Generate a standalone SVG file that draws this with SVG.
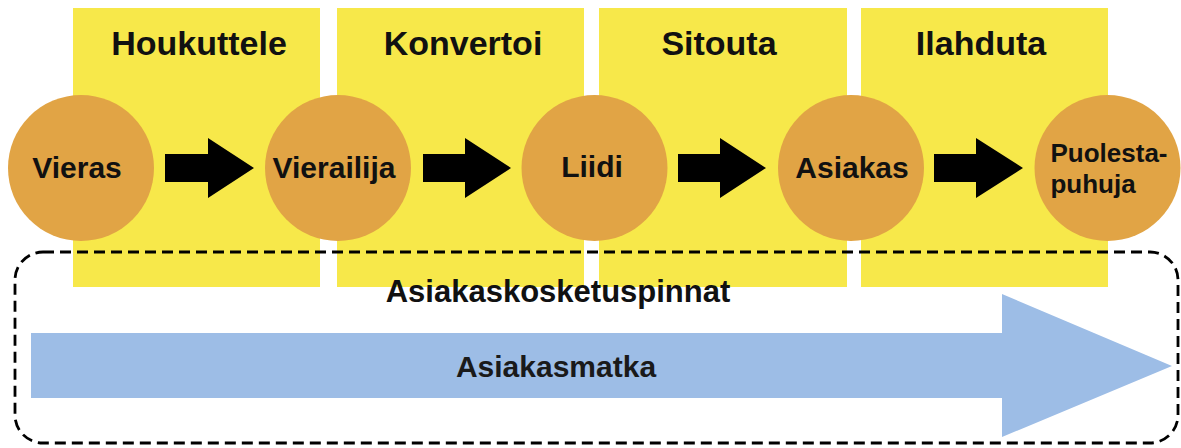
<svg xmlns="http://www.w3.org/2000/svg" width="1181" height="448" viewBox="0 0 1181 448">
<style>
.stage{fill:#F7E84A}
.circ{fill:#E1A445}
.t{font-family:"Liberation Sans",Arial,sans-serif;font-weight:bold;fill:#111;text-anchor:middle}
.title{font-size:34px}
.lbl{font-size:30px}
.arr{fill:#000}
</style>
<rect width="1181" height="448" fill="#fff"/>
<g id="stage-houkuttele"><rect class="stage" x="73" y="8" width="247" height="279"/><text class="t title" x="199" y="55">Houkuttele</text></g>
<g id="stage-konvertoi"><rect class="stage" x="337" y="8" width="247" height="279"/><text class="t title" x="463" y="55">Konvertoi</text></g>
<g id="stage-sitouta"><rect class="stage" x="599" y="8" width="248" height="279"/><text class="t title" x="719" y="55">Sitouta</text></g>
<g id="stage-ilahduta"><rect class="stage" x="861" y="8" width="247" height="279"/><text class="t title" x="981" y="55">Ilahduta</text></g>
<g id="node-vieras"><circle class="circ" cx="81" cy="168" r="73"/><text class="t lbl" x="77" y="178">Vieras</text></g>
<g id="node-vierailija"><circle class="circ" cx="338" cy="168" r="73"/><text class="t lbl" x="334" y="178">Vierailija</text></g>
<g id="node-liidi"><circle class="circ" cx="594.5" cy="168" r="73"/><text class="t lbl" x="592" y="177">Liidi</text></g>
<g id="node-asiakas"><circle class="circ" cx="851" cy="168" r="73"/><text class="t lbl" x="852" y="178">Asiakas</text></g>
<g id="node-puolestapuhuja"><circle class="circ" cx="1107.5" cy="168" r="73"/><text class="t" style="font-size:26px" x="1109" y="162">Puolesta-</text><text class="t" style="font-size:26px" x="1093" y="193">puhuja</text></g>
<g id="connectors">
<polygon class="arr" points="165,154 208,154 208,138 254,168 208,198 208,182 165,182"/>
<polygon class="arr" points="423,154 465,154 465,138 511,168 465,198 465,182 423,182"/>
<polygon class="arr" points="678,154 720,154 720,138 766,168 720,198 720,182 678,182"/>
<polygon class="arr" points="934,154 976,154 976,138 1023,168 976,198 976,182 934,182"/>
</g>
<g id="touchpoints"><rect x="15" y="252" width="1163" height="191" rx="28" fill="none" stroke="#000" stroke-width="2.8" stroke-dasharray="11 6"/><text class="t" style="font-size:31px" x="558" y="302">Asiakaskosketuspinnat</text></g>
<g id="journey"><polygon fill="#9DBDE6" points="31,333 1002,333 1002,294 1172,366 1002,437 1002,398 31,398"/><text class="t" style="font-size:30px;fill:#1a1a1a" x="556" y="377">Asiakasmatka</text></g>
</svg>
